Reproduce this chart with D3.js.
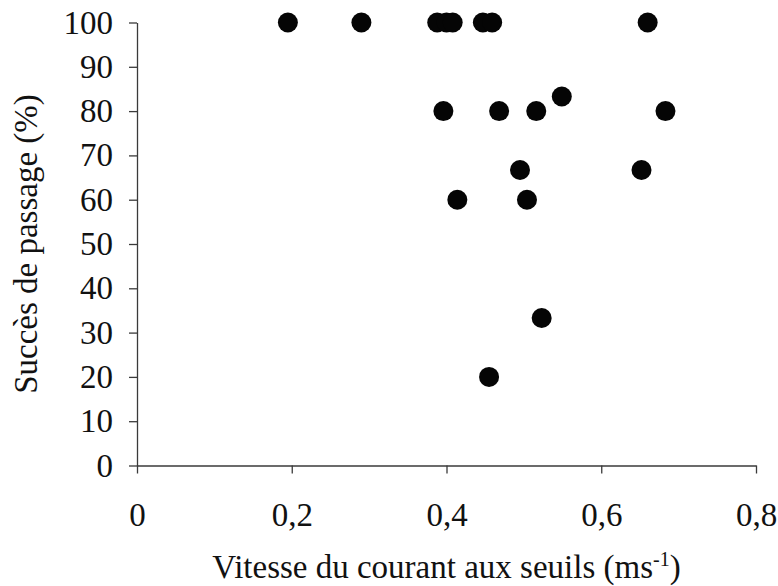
<!DOCTYPE html>
<html>
<head>
<meta charset="utf-8">
<script src="https://cdn.jsdelivr.net/npm/d3@7"></script>
<style>
  html, body { margin: 0; padding: 0; background: #fff; }
  svg { display: block; }
  .tick text, .label { font-family: "Liberation Serif", "Times New Roman", serif; fill: #111; }
</style>
</head>
<body>
<svg id="chart" width="778" height="586"></svg>
<script>
// Vitesse du courant aux seuils (m/s) et succès de passage (%)
const vitesse = [0.195, 0.290, 0.388, 0.400, 0.408, 0.447, 0.459, 0.660,
                 0.396, 0.468, 0.516, 0.683,
                 0.549,
                 0.495, 0.652,
                 0.414, 0.504,
                 0.523,
                 0.455];
const succes = [100, 100, 100, 100, 100, 100, 100, 100,
                80, 80, 80, 80,
                83.3,
                66.7, 66.7,
                60, 60,
                33.3,
                20];
const xTicks = [0, 0.2, 0.4, 0.6, 0.8];
const yTicks = [0, 10, 20, 30, 40, 50, 60, 70, 80, 90, 100];
const xTitle = "Vitesse du courant aux seuils (ms";
const xTitleSup = "-1";
const yTitle = "Succès de passage (%)";

const svg = d3.select("#chart");
const plotLeft = 137, plotRight = 756, plotTop = 22.5, plotBottom = 465.5;
const fontSize = 33;

const x = d3.scaleLinear().domain([0, 0.8]).range([plotLeft, plotRight]);
const y = d3.scaleLinear().domain([0, 100]).range([plotBottom, plotTop]);

const fmt = d => d === 0 ? "0" : d3.format(".1f")(d).replace(".", ",");
const axisColor = "#3a3a3a";

const gx = svg.append("g")
  .attr("transform", `translate(0,${plotBottom})`)
  .call(d3.axisBottom(x).tickValues(xTicks).tickFormat(fmt).tickSize(8).tickSizeOuter(0).tickPadding(29));
const gy = svg.append("g")
  .attr("transform", `translate(${plotLeft},0)`)
  .call(d3.axisLeft(y).tickValues(yTicks).tickSize(8).tickSizeOuter(0).tickPadding(16));

[gx, gy].forEach(g => {
  g.select(".domain").attr("stroke", axisColor).attr("stroke-width", 1.3);
  g.selectAll(".tick line").attr("stroke", axisColor).attr("stroke-width", 1.3);
  g.selectAll(".tick text").style("font-size", fontSize + "px");
});

// Points
svg.append("g")
  .selectAll("circle")
  .data(vitesse.map((v, i) => [v, succes[i]]))
  .join("circle")
  .attr("cx", d => x(d[0]))
  .attr("cy", d => y(d[1]))
  .attr("r", 10)
  .attr("fill", "#050505");

// Axis titles
const xt = svg.append("text")
  .attr("class", "label")
  .attr("x", (plotLeft + plotRight) / 2)
  .attr("y", 578)
  .attr("text-anchor", "middle")
  .style("font-size", fontSize + "px");
xt.append("tspan").text(xTitle);
xt.append("tspan").attr("dy", -12).style("font-size", "20px").text(xTitleSup);
xt.append("tspan").attr("dy", 12).text(")");

svg.append("text")
  .attr("class", "label")
  .attr("transform", `translate(37,${(plotTop + plotBottom) / 2}) rotate(-90)`)
  .attr("text-anchor", "middle")
  .style("font-size", fontSize + "px")
  .text(yTitle);
</script>
</body>
</html>
